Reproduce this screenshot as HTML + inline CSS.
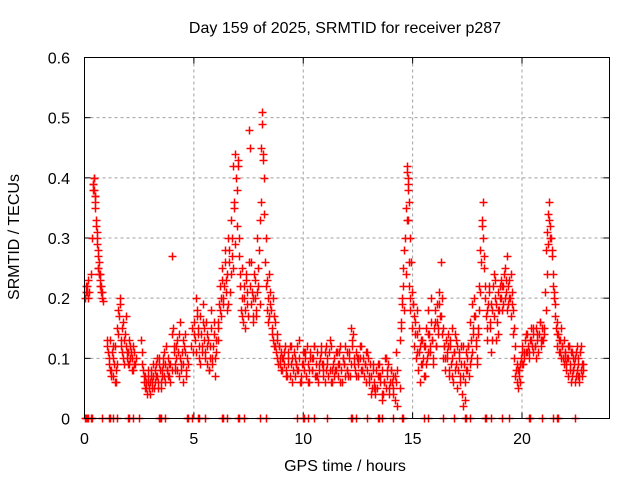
<!DOCTYPE html>
<html><head><meta charset="utf-8"><style>
body{margin:0;background:#fff;}
svg text{font-family:"Liberation Sans",sans-serif;font-size:16px;fill:#000;}
</style></head><body>
<svg id="chart" width="640" height="480">
<text x="345" y="33" text-anchor="middle">Day 159 of 2025, SRMTID for receiver p287</text>
<text x="345" y="471" text-anchor="middle">GPS time / hours</text>
<text transform="translate(19,237) rotate(-90)" text-anchor="middle">SRMTID / TECUs</text>
<g id="grid"></g><g id="ticks"></g><g id="marks"></g>
<rect x="84.5" y="57.5" width="525" height="361" fill="none" stroke="#000"/>
</svg>
<script>
const xTicks=[0,5,10,15,20];
const yTicks=[0,0.1,0.2,0.3,0.4,0.5,0.6];
const yTickLabels=["0","0.1","0.2","0.3","0.4","0.5","0.6"];
const times=[0.05,0.1,0.15,0.2,0.3,0.35,0.4,0.42,0.45,0.48,0.5,0.52,0.55,0.58,0.6,0.62,0.65,0.68,0.7,0.72,0.75,0.8,0.85,
1.05,1.1,1.15,1.2,1.25,1.3,1.35,1.4,1.45,1.5,1.55,1.6,1.65,1.7,1.75,1.8,1.85,1.9,1.95,2.0,2.05,2.1,2.15,2.2,2.25,2.3,2.35,
2.6,2.65,2.7,2.75,2.8,2.85,2.9,2.95,3.0,3.05,3.1,3.15,3.2,3.25,3.3,3.35,3.4,3.45,3.5,3.55,3.6,3.65,3.7,3.75,3.8,3.85,3.9,
4.0,4.05,4.1,4.15,4.2,4.25,4.3,4.35,4.4,4.45,4.5,4.55,4.6,4.65,4.7,4.75,4.85,4.9,4.95,
5.0,5.05,5.1,5.15,5.2,5.25,5.3,5.35,5.4,5.45,5.5,5.55,5.6,5.65,5.7,5.75,5.8,5.85,5.9,5.95,6.0,
6.1,6.15,6.2,6.25,6.3,6.35,6.4,6.45,6.5,6.55,6.6,6.65,6.7,6.75,6.8,6.85,6.9,6.95,7.0,7.05,7.1,7.15,7.2,7.25,7.3,7.35,7.4,7.45,7.5,7.55,7.6,7.65,7.7,7.75,7.8,7.85,7.9,7.95,8.0,8.05,8.1,8.12,8.15,8.2,8.25,8.3,8.35,8.4,8.45,8.5,8.55,8.6,8.65,8.7,8.75,8.8,8.85,8.9,8.95,
9.0,9.1,9.2,9.3,9.4,9.5,9.6,9.7,9.8,9.9,10.0,10.1,10.2,10.3,10.4,10.5,10.6,10.7,10.8,10.9,11.0,11.1,11.2,11.3,11.4,11.5,11.6,11.7,11.8,11.9,12.0,12.1,12.2,12.3,12.4,12.5,12.6,12.7,12.8,12.9,
9.05,9.25,9.45,9.65,9.85,10.05,10.25,10.45,10.65,10.85,11.05,11.25,11.45,11.65,11.85,12.05,12.25,12.45,12.65,12.85,
13.0,13.1,13.2,13.3,13.4,13.5,13.6,13.7,13.8,13.9,14.0,14.1,14.2,14.3,13.05,13.25,13.45,13.65,13.85,14.05,14.25,
14.4,14.45,14.5,14.55,14.6,14.65,14.7,14.72,14.75,14.78,14.8,14.82,14.85,14.88,14.9,14.95,15.0,15.05,15.1,15.15,15.2,
15.25,15.3,15.35,15.4,15.45,15.5,15.55,15.6,15.65,15.7,15.75,15.8,15.85,15.9,15.95,16.0,16.05,16.1,16.15,16.2,16.25,16.3,16.35,16.4,16.45,
16.5,16.55,16.6,16.65,16.7,16.75,16.8,16.85,16.9,16.95,17.0,17.05,17.1,17.15,17.2,17.25,17.3,17.35,17.4,17.45,
17.5,17.55,17.6,17.65,17.7,17.75,17.8,17.85,17.9,17.95,18.0,18.05,18.1,18.15,18.2,18.25,18.3,18.35,18.4,18.45,18.5,18.55,18.6,18.65,18.7,18.75,18.8,18.85,18.9,18.95,
19.0,19.05,19.1,19.15,19.2,19.25,19.3,19.35,19.4,19.45,19.5,19.55,19.6,19.65,19.7,19.75,19.8,19.85,19.9,19.95,
20.0,20.1,20.2,20.3,20.4,20.5,20.6,20.7,20.8,20.9,21.0,21.05,21.1,21.15,21.2,21.25,21.3,21.35,21.4,21.45,21.5,21.55,21.6,21.65,21.7,21.75,21.8,21.85,21.9,21.95,
22.0,22.05,22.1,22.15,22.2,22.25,22.3,22.35,22.4,22.45,22.5,22.55,22.6,22.65,22.7,22.75,22.8,20.05,20.25,20.45,20.65,20.85,21.95,22.15,22.35,22.55];
const values=[0.21,0.22,0.20,0.21,0.24,0.30,0.39,0.40,0.38,0.37,0.36,0.33,0.31,0.29,0.27,0.25,0.26,0.24,0.22,0.23,0.21,0.20,0.195,
0.13,0.10,0.08,0.07,0.11,0.12,0.09,0.06,0.08,0.15,0.18,0.20,0.13,0.11,0.16,0.09,0.14,0.12,0.10,0.11,0.09,0.12,0.10,0.08,0.11,0.09,0.10,
0.13,0.09,0.07,0.05,0.06,0.04,0.07,0.05,0.06,0.08,0.05,0.07,0.06,0.09,0.07,0.06,0.10,0.08,0.05,0.07,0.09,0.11,0.06,0.08,0.10,0.07,0.09,
0.27,0.15,0.12,0.08,0.10,0.13,0.07,0.16,0.09,0.11,0.06,0.12,0.14,0.08,0.10,0.09,0.12,0.15,0.11,
0.16,0.13,0.20,0.18,0.14,0.10,0.17,0.12,0.19,0.15,0.11,0.16,0.09,0.13,0.08,0.12,0.18,0.10,0.14,0.07,0.11,
0.15,0.19,0.22,0.17,0.25,0.20,0.28,0.23,0.18,0.30,0.26,0.21,0.33,0.27,0.42,0.35,0.44,0.38,0.42,0.30,0.22,0.18,0.25,0.16,0.20,0.15,0.23,0.19,0.48,0.45,0.26,0.21,0.17,0.24,0.20,0.18,0.30,0.22,0.33,0.45,0.51,0.49,0.43,0.34,0.26,0.22,0.18,0.16,0.24,0.19,0.14,0.20,0.12,0.16,0.11,0.13,0.09,0.12,0.10,
0.08,0.11,0.07,0.09,0.12,0.06,0.10,0.08,0.13,0.07,0.09,0.11,0.06,0.10,0.08,0.12,0.07,0.09,0.11,0.08,0.06,0.10,0.13,0.08,0.07,0.11,0.09,0.06,0.10,0.12,0.08,0.11,0.15,0.09,0.07,0.10,0.12,0.08,0.09,0.11,
0.10,0.07,0.12,0.09,0.06,0.11,0.08,0.10,0.07,0.09,0.12,0.06,0.08,0.11,0.09,0.07,0.13,0.10,0.08,0.06,
0.06,0.04,0.08,0.05,0.09,0.07,0.03,0.06,0.10,0.05,0.08,0.04,0.07,0.02,0.09,0.05,0.07,0.04,0.08,0.06,0.11,
0.13,0.16,0.20,0.25,0.18,0.30,0.35,0.41,0.42,0.38,0.33,0.26,0.22,0.20,0.18,0.15,0.19,0.12,0.16,0.10,0.14,
0.08,0.11,0.06,0.13,0.09,0.12,0.07,0.15,0.10,0.18,0.14,0.11,0.20,0.13,0.09,0.16,0.12,0.19,0.15,0.21,0.17,0.26,0.14,0.10,0.12,
0.08,0.11,0.14,0.07,0.12,0.09,0.15,0.06,0.11,0.08,0.13,0.05,0.10,0.07,0.12,0.04,0.02,0.09,0.06,0.11,
0.08,0.12,0.16,0.10,0.19,0.14,0.20,0.17,0.12,0.09,0.15,0.22,0.28,0.32,0.36,0.25,0.20,0.17,0.13,0.19,0.22,0.15,0.11,0.18,0.24,0.20,0.13,0.16,0.21,0.18,
0.20,0.23,0.18,0.22,0.25,0.21,0.27,0.19,0.23,0.20,0.17,0.21,0.14,0.10,0.07,0.09,0.05,0.08,0.06,0.10,
0.12,0.10,0.14,0.11,0.13,0.15,0.12,0.14,0.16,0.13,0.15,0.21,0.28,0.31,0.34,0.36,0.30,0.27,0.22,0.20,0.17,0.15,0.12,0.14,0.11,0.13,0.10,0.12,0.09,0.11,
0.08,0.10,0.07,0.12,0.09,0.06,0.11,0.08,0.10,0.07,0.12,0.09,0.06,0.11,0.08,0.07,0.09,0.09,0.11,0.12,0.10,0.13,0.10,0.12,0.08,0.07];
const times2=[0.02,0.08,0.12,0.18,0.38,0.41,0.44,0.46,0.49,0.53,0.56,0.6,0.63,0.66,0.7,0.74,0.78,
1.02,1.08,1.12,1.18,1.22,1.28,1.32,1.38,1.42,1.48,1.52,1.58,1.62,1.68,1.72,1.78,1.82,1.88,1.92,1.98,2.02,2.08,2.12,2.18,2.22,2.28,
2.62,2.68,2.72,2.78,2.82,2.88,2.92,2.98,3.02,3.08,3.12,3.18,3.22,3.28,3.32,3.38,3.42,3.48,3.52,3.58,3.62,3.68,3.72,3.78,3.82,3.88,3.92,3.98,
4.02,4.08,4.12,4.18,4.22,4.28,4.32,4.38,4.42,4.48,4.52,4.58,4.62,5.02,5.08,5.12,5.18,5.22,5.28,5.32,5.38,5.42,5.48,5.52,5.58,5.62,5.68,5.72,5.78,5.82,5.88,5.92,5.98,
6.02,6.08,6.12,6.18,6.22,6.28,6.32,6.38,6.42,6.48,6.52,6.58,6.62,6.68,6.72,6.78,6.82,6.88,6.92,6.98,7.02,7.08,7.12,7.18,7.22,7.28,7.32,7.38,7.42,7.48,7.52,7.58,7.62,7.68,7.72,7.78,7.82,7.88,7.92,7.98,8.02,8.08,8.18,8.22,8.28,8.32,8.38,8.42,8.48,8.52,8.58,8.62,8.68,8.72,8.78,8.82,8.88,8.92,8.98,
9.02,9.08,9.12,9.18,9.22,9.28,9.32,9.38,9.42,9.48,9.52,9.58,9.62,9.68,9.72,9.78,9.82,9.88,9.92,9.98,10.02,10.08,10.12,10.18,10.22,10.28,10.32,10.38,10.42,10.48,10.52,10.58,10.62,10.68,10.72,10.78,10.82,10.88,10.92,10.98,
11.02,11.08,11.12,11.18,11.22,11.28,11.32,11.38,11.42,11.48,11.52,11.58,11.62,11.68,11.72,11.78,11.82,11.88,11.92,11.98,12.02,12.08,12.12,12.18,12.22,12.28,12.32,12.38,12.42,12.48,12.52,12.58,12.62,12.68,12.72,12.78,12.82,12.88,12.92,12.98,
13.02,13.08,13.12,13.18,13.22,13.28,13.32,13.38,13.42,13.48,13.52,13.58,13.62,13.68,13.72,13.78,13.82,13.88,13.92,13.98,14.02,14.08,14.12,14.18,14.22,14.28,
14.42,14.48,14.52,14.58,14.62,14.68,14.74,14.77,14.81,14.84,14.87,14.92,14.98,15.02,15.08,15.12,15.18,15.22,15.28,15.32,15.38,15.42,15.48,15.52,15.58,15.62,15.68,15.72,15.78,15.82,15.88,15.92,15.98,16.02,16.08,16.12,16.18,16.22,16.28,16.32,16.38,16.42,16.48,
16.52,16.58,16.62,16.68,16.72,16.78,16.82,16.88,16.92,16.98,17.02,17.08,17.12,17.18,17.22,17.28,17.32,17.38,17.42,17.48,17.52,17.58,17.62,17.68,17.72,17.78,17.82,17.88,17.92,17.98,18.02,18.08,18.12,18.18,18.22,18.28,18.32,18.38,18.42,18.48,18.52,18.58,18.62,18.68,18.72,18.78,18.82,18.88,18.92,18.98,
19.02,19.08,19.12,19.18,19.22,19.28,19.32,19.38,19.42,19.48,19.52,19.58,19.62,19.68,19.72,19.78,19.82,19.88,19.92,19.98,20.02,20.08,20.12,20.18,20.22,20.28,20.32,20.38,20.42,20.48,20.52,20.58,20.62,20.68,20.72,20.78,20.82,20.88,20.92,20.98,
21.02,21.08,21.12,21.18,21.22,21.28,21.32,21.38,21.42,21.48,21.52,21.58,21.62,21.68,21.72,21.78,21.82,21.88,21.92,21.98,22.02,22.08,22.12,22.18,22.22,22.28,22.32,22.38,22.42,22.48,22.52,22.58,22.62,22.68,22.72,22.78];
const values2=[0.20,0.22,0.21,0.23,0.38,0.39,0.40,0.37,0.35,0.32,0.30,0.28,0.25,0.24,0.24,0.22,0.21,
0.12,0.11,0.09,0.13,0.08,0.10,0.07,0.12,0.06,0.09,0.14,0.17,0.19,0.12,0.15,0.10,0.13,0.17,0.11,0.09,0.13,0.10,0.11,0.08,0.12,0.09,
0.11,0.08,0.06,0.07,0.05,0.08,0.06,0.04,0.07,0.06,0.09,0.05,0.08,0.07,0.10,0.05,0.09,0.06,0.08,0.10,0.07,0.09,0.12,0.08,0.07,0.09,0.06,0.08,
0.14,0.11,0.09,0.12,0.08,0.11,0.14,0.10,0.08,0.13,0.09,0.11,0.07,0.14,0.11,0.17,0.15,0.12,0.09,0.14,0.11,0.16,0.13,0.10,0.14,0.12,0.08,0.10,0.15,0.09,0.12,0.16,0.10,0.13,
0.13,0.16,0.18,0.20,0.23,0.19,0.22,0.26,0.21,0.24,0.19,0.28,0.24,0.30,0.25,0.36,0.29,0.40,0.32,0.43,0.27,0.24,0.20,0.17,0.22,0.18,0.24,0.21,0.17,0.26,0.22,0.19,0.16,0.20,0.23,0.17,0.21,0.25,0.28,0.19,0.36,0.44,0.40,0.30,0.23,0.20,0.17,0.21,0.18,0.15,0.13,0.17,0.12,0.14,0.10,0.12,0.09,0.11,0.08,
0.10,0.09,0.12,0.08,0.10,0.11,0.07,0.09,0.10,0.08,0.11,0.07,0.09,0.12,0.08,0.10,0.06,0.09,0.11,0.08,0.10,0.07,0.12,0.09,0.06,0.11,0.08,0.10,0.12,0.07,0.09,0.11,0.06,0.08,0.10,0.12,0.07,0.09,0.11,0.08,
0.09,0.07,0.11,0.08,0.12,0.06,0.09,0.10,0.08,0.11,0.07,0.09,0.12,0.08,0.06,0.10,0.09,0.07,0.11,0.08,0.10,0.07,0.09,0.12,0.14,0.10,0.08,0.11,0.09,0.07,0.10,0.12,0.08,0.10,0.07,0.09,0.11,0.08,0.10,0.07,
0.07,0.05,0.09,0.06,0.04,0.08,0.05,0.07,0.09,0.06,0.04,0.08,0.06,0.10,0.05,0.07,0.09,0.04,0.06,0.08,0.05,0.07,0.03,0.06,0.08,0.05,
0.15,0.19,0.22,0.28,0.24,0.33,0.40,0.39,0.36,0.30,0.26,0.21,0.19,0.17,0.14,0.18,0.11,0.15,0.12,0.09,0.13,0.10,0.07,0.12,0.09,0.11,0.14,0.12,0.16,0.13,0.10,0.15,0.18,0.12,0.16,0.14,0.19,0.17,0.20,0.15,0.12,0.10,0.13,
0.10,0.12,0.08,0.13,0.10,0.07,0.11,0.14,0.09,0.12,0.08,0.11,0.06,0.09,0.12,0.07,0.03,0.08,0.10,0.12,0.07,0.09,0.13,0.11,0.15,0.17,0.13,0.10,0.14,0.18,0.21,0.26,0.33,0.30,0.27,0.22,0.18,0.15,0.21,0.16,0.19,0.13,0.22,0.17,0.23,0.19,0.14,0.18,0.22,0.20,
0.22,0.19,0.24,0.20,0.23,0.18,0.22,0.20,0.24,0.19,0.18,0.15,0.12,0.08,0.06,0.08,0.07,0.09,0.11,0.09,0.11,0.13,0.11,0.14,0.12,0.10,0.13,0.15,0.11,0.14,0.12,0.15,0.13,0.11,0.14,0.16,0.12,0.15,0.13,0.14,
0.18,0.24,0.29,0.33,0.32,0.30,0.28,0.24,0.21,0.19,0.16,0.14,0.13,0.11,0.15,0.12,0.10,0.13,0.11,0.09,0.12,0.10,0.08,0.11,0.07,0.10,0.09,0.06,0.11,0.08,0.10,0.07,0.12,0.09,0.08,0.10];
const zeroTimes=[0.02,0.05,0.1,0.15,0.3,0.35,0.8,1.1,1.15,1.3,1.5,2.0,2.05,2.2,2.5,3.4,3.45,3.5,3.7,4.7,4.75,4.9,5.2,5.25,5.5,6.3,6.35,6.5,7.0,7.05,7.3,8.0,8.3,9.7,10.0,10.05,10.2,10.5,11.1,12.2,12.25,12.4,12.9,13.4,13.45,13.6,14.1,14.5,14.55,15.5,15.7,16.4,16.9,17.4,17.45,17.6,18.3,18.35,18.6,19.1,19.4,20.3,20.35,20.9,21.4,21.6,21.65,22.4];
const X=h=>84.5+h*(525/24), Y=v=>418.5-v*(361/0.6);
const ns="http://www.w3.org/2000/svg";
const grid=document.getElementById('grid'),ticks=document.getElementById('ticks'),marks=document.getElementById('marks');
function mk(tag,attrs,parent){const e=document.createElementNS(ns,tag);for(const k in attrs)e.setAttribute(k,attrs[k]);parent.appendChild(e);return e;}
xTicks.forEach(t=>{
 const g=mk('line',{x1:X(t),x2:X(t),y1:57.5,y2:418.5,stroke:'#a0a0a0','stroke-dasharray':'3,3'},grid);
 
 
 mk('line',{x1:X(t),x2:X(t),y1:418.5,y2:412.5,stroke:'#000'},ticks);
 mk('line',{x1:X(t),x2:X(t),y1:57.5,y2:63.5,stroke:'#000'},ticks);
 const l=mk('text',{x:X(t),y:444,'text-anchor':'middle'},ticks);l.textContent=t;
 
 
});
yTicks.forEach((t,i)=>{
 const g=mk('line',{x1:84.5,x2:609.5,y1:Y(t),y2:Y(t),stroke:'#a0a0a0','stroke-dasharray':'3,3'},grid);
 
 
 mk('line',{x1:84.5,x2:90.5,y1:Y(t),y2:Y(t),stroke:'#000'},ticks);
 mk('line',{x1:603.5,x2:609.5,y1:Y(t),y2:Y(t),stroke:'#000'},ticks);
 const l=mk('text',{x:70,y:Y(t)+6,'text-anchor':'end'},ticks);l.textContent=yTickLabels[i];
 
 
});
function plus(x,y){
 const p=mk('path',{d:`M${x-4},${y}h8M${x},${y-4}v8`,stroke:'#ff0000','stroke-width':1.5,fill:'none'},marks);
 
 
}
times.forEach((t,i)=>{plus(Math.round(X(t))+0.5,Math.round(Y(values[i]))+0.5);});
times2.forEach((t,i)=>{plus(Math.round(X(t))+0.5,Math.round(Y(values2[i]))+0.5);});
zeroTimes.forEach(t=>{plus(Math.round(X(t))+0.5,Y(0));});
</script>
</body></html>
